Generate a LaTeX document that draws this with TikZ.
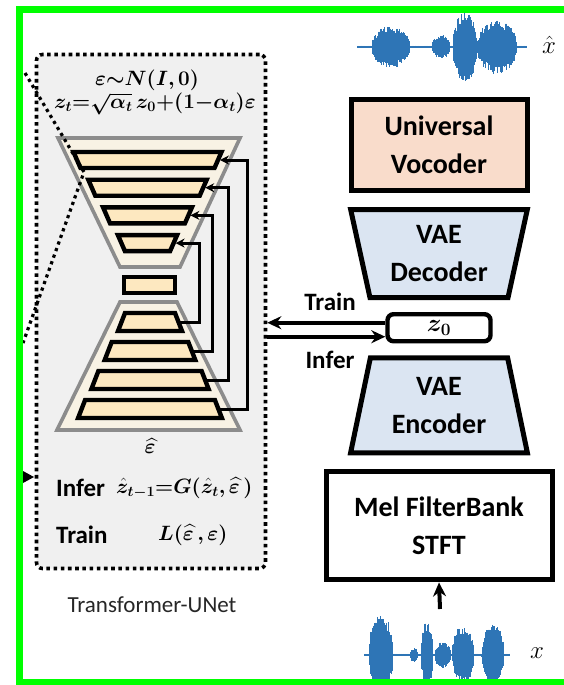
\documentclass[tikz,border=0pt]{standalone}
\usepackage{amsmath}
\usepackage{bm}
\usepackage{fontspec}
\setsansfont{Carlito}
\usetikzlibrary{
	arrows.meta,
	positioning,
	shapes.geometric
}
\definecolor{vocfill}{RGB}{249,220,203}
\definecolor{vaefill}{RGB}{219,229,242}
\definecolor{layerfill}{RGB}{253,232,192}
\definecolor{shellfill}{RGB}{248,242,228}
\definecolor{shellline}{RGB}{140,140,140}
\definecolor{boxfill}{RGB}{240,240,240}
\definecolor{wavecol}{RGB}{46,117,182}
\definecolor{framecol}{RGB}{0,255,0}
\newcommand\blokfont{\sffamily\bfseries\fontsize{28}{38}\selectfont}
\newcommand\lblfont{\sffamily\bfseries\fontsize{25}{30}\selectfont}
\newcommand\formfont{\fontsize{22}{26}\selectfont}
\tikzset{
%Define standard arrow tip
>={Stealth[length=14pt,width=13pt]},
%Define envelope for the waveforms
declare function={bump(\t,\c,\w)=sqrt(max(0,1-((\t-\c)/\w)*((\t-\c)/\w)));},
%Define style for blocks
blok/.style={
	rectangle,
	draw=black, line width=5pt,
	align=center,
	font=\blokfont},
%Define style for VAE halves
vae/.style={
	trapezium,
	trapezium left angle=77,
	trapezium right angle=77,
	trapezium stretches=true,
	draw=black, line width=5pt,
	fill=vaefill,
	minimum width=177pt,
	align=center,
	font=\blokfont},
%Define style for the latent box
zbox/.style={
	rectangle,
	rounded corners=6pt,
	draw=black, line width=4.4pt,
	fill=white,
	minimum width=103pt,
	minimum height=27pt,
	font=\fontsize{25}{28}\selectfont},
%Define style for the dotted UNet box
unetbox/.style={
	rectangle,
	rounded corners=6pt,
	draw=black, line width=3.6pt,
	dash pattern=on 3.6pt off 3.6pt,
	fill=boxfill,
	minimum width=229pt,
	minimum height=514pt},
shell/.style={draw=shellline, line width=3.6pt, fill=shellfill, line join=miter},
layer/.style={draw=black, line width=4.4pt, fill=layerfill, line join=miter},
formel/.style={inner sep=1pt, font=\formfont},
lbl/.style={inner sep=1pt, font=\lblfont},
wave/.style={draw=wavecol, line width=1.1pt},
zoomline/.style={draw=black, line width=3.2pt, dash pattern=on 3.2pt off 3.8pt},
% Define arrow style
pil/.style={
	->,
	line width=4pt},
skip/.style={
	-{Stealth[length=9pt,width=9pt]},
	line width=3pt}
}

\begin{document}
\begin{tikzpicture}[x=1pt,y=-1pt]
	\useasboundingbox (0,0) rectangle (564,685);
	\clip (0,0) rectangle (564,685);
	% Transformer-UNet
	\node[unetbox] (unet) at (151,311.5) {};
	\draw[shell] (58,138) -- (240,138) -- (180,267) -- (120,267) -- cycle;
	\draw[shell] (120,302) -- (177,302) -- (240,430) -- (57,430) -- cycle;
	\foreach \i in {1,...,4}{
		\pgfmathsetmacro\yt{152+27.7*(\i-1)}
		\pgfmathsetmacro\hw{74-14.8*(\i-1)}
		\draw[layer] (147.5-\hw,\yt) -- (147.5+\hw,\yt) -- (140.5+\hw,\yt+16) -- (154.5-\hw,\yt+16) -- cycle;
		\coordinate (e\i) at (146+\hw,\yt+8);
	}
	\draw[layer] (124,277) rectangle (175,293);
	\foreach \i in {1,...,4}{
		\pgfmathsetmacro\yt{313+29*(\i-1)}
		\pgfmathsetmacro\hw{25+13.3*(\i-1)}
		\draw[layer] (150-\hw,\yt) -- (150+\hw,\yt) -- (157+\hw,\yt+18) -- (143-\hw,\yt+18) -- cycle;
		\coordinate (d\i) at (153.5+\hw,\yt+9);
	}
	\foreach \e/\d/\x in {4/1/199,3/2/212,2/3/228,1/4/247}{
		\coordinate (k\e) at (\x,0);
		\draw[skip] (d\d) -- (d\d -| k\e) -- (e\e -| k\e) -- (e\e);
	}
	\node[formel] (noise) at (147,80) {$\bm{\varepsilon{\sim}N(I,0)}$};
	\node[formel] (fwd) at (155,104) {$\bm{z_t{=}\sqrt{\alpha_t}\,z_0{+}(1{-}\alpha_t)\varepsilon}$};
	\node[formel] (epshat) at (150,446) {$\bm{\widehat{\varepsilon}}$};
	\node[lbl, anchor=west] (infer) at (55,488) {Infer};
	\node[formel, anchor=west] (step) at (115,488) {$\bm{\hat z_{t-1}{=}G(\hat z_t,\widehat{\varepsilon}\,)}$};
	\node[lbl, anchor=west] (train) at (55,535) {Train};
	\node[formel, anchor=west] (loss) at (157,535) {$\bm{L(\widehat{\varepsilon}\,,\varepsilon)}$};
	\node[font=\sffamily\fontsize{23}{28}\selectfont, text=black!85] (tunet) at (152,605) {Transformer-UNet};
	% VAE and vocoder
	\node[blok, fill=vocfill, minimum width=176pt, minimum height=91pt] (voc) at (439,145) {Universal\\Vocoder};
	\node[vae, shape border rotate=180, minimum height=88pt, below=14pt of voc] (dec) {VAE\\Decoder};
	\node[zbox, below=12pt of dec] (z0) {$\bm{z_0}$};
	\node[vae, minimum height=95pt, below=12pt of z0] (enc) {VAE\\Encoder};
	\node[blok, fill=white, minimum width=226pt, minimum height=108pt, below=14pt of enc] (mel) {Mel FilterBank\\STFT};
	\node[lbl] (trainlbl) at (330,302) {Train};
	\node[lbl] (inferlbl) at (330,360) {Infer};
	\coordinate (tr) at ([yshift=5pt]z0.west);
	\coordinate (inf) at ([yshift=-9pt]z0.west);
	\draw[pil] (tr) -- (tr -| unet.east);
	\draw[pil] (inf -| unet.east) -- (inf);
	% waveforms
	\pgfmathsetseed{4}
	\foreach \x in {358,358.6,...,527}{
		\pgfmathsetmacro\env{1.2+20*bump(\x,391,19)+11*bump(\x,441,9)+34*bump(\x,465,12)+26*bump(\x,497,20)}
		\pgfmathsetmacro\up{\env*(0.6+0.4*rnd)}
		\pgfmathsetmacro\dn{\env*(0.6+0.4*rnd)}
		\draw[wave] (\x,47-\up) -- (\x,47+\dn);
	}
	\foreach \x in {365,365.6,...,510}{
		\pgfmathsetmacro\env{1.2+40*bump(\x,381,12)+6*bump(\x,414,4)+32*bump(\x,427,6)+12*bump(\x,443,8)+28*bump(\x,463,11)+30*bump(\x,493,11)}
		\pgfmathsetmacro\up{\env*(0.6+0.4*rnd)}
		\pgfmathsetmacro\dn{\env*(0.6+0.4*rnd)}
		\draw[wave] (\x,655-\up) -- (\x,655+\dn);
	}
	\node[font=\fontsize{28}{32}\selectfont] (xhat) at (549,45) {$\hat{x}$};
	\node[font=\fontsize{28}{32}\selectfont] (xlbl) at (537,653) {$x$};
	\coordinate (xin) at (440,609);
	\draw[pil] (xin) -- (mel.south);
	% zoom lines of the full figure
	\draw[zoomline] (25,73) -- (84,172) -- (23,343);
	\fill (23,471) -- (34,477) -- (23,483) -- cycle;
	% frame
	\draw[framecol, line width=7pt] (19.5,685) -- (19.5,9.5) -- (564,9.5);
	\draw[framecol, line width=6pt] (16,682) -- (564,682);
\end{tikzpicture}
\end{document}
